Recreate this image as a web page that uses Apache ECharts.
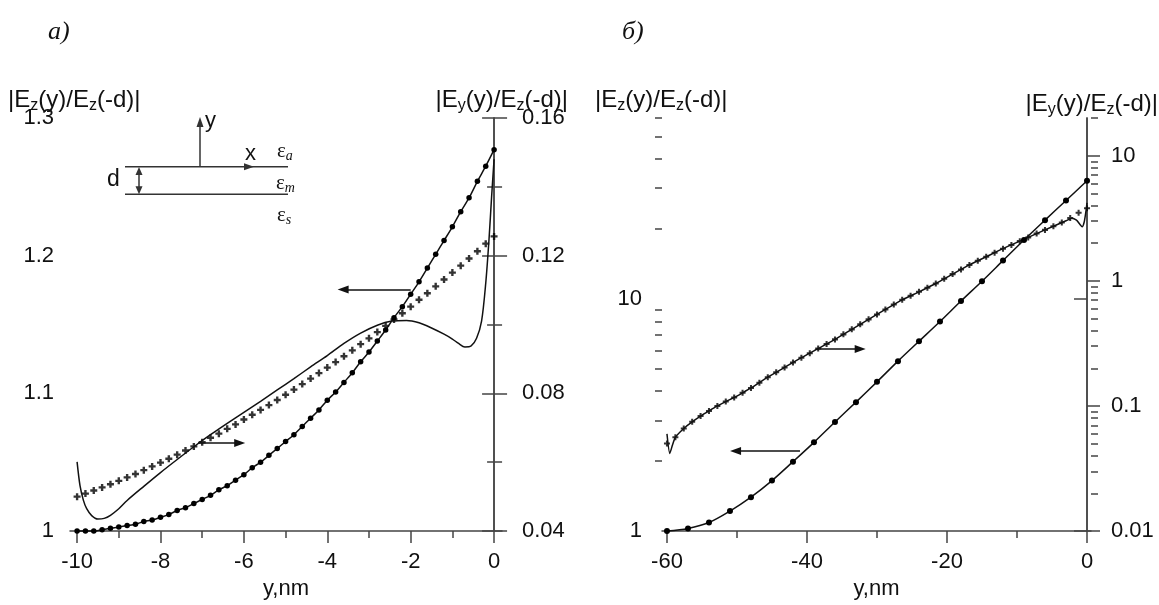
<!DOCTYPE html>
<html><head><meta charset="utf-8">
<script src="https://cdn.jsdelivr.net/npm/echarts@6/dist/echarts.min.js"></script>
<style>html,body{margin:0;padding:0;background:#fff}#c{width:1159px;height:605px}</style>
</head><body><div id="c"></div>
<script>
// ---------- panel a) ----------
const aX = [-10,-9.8,-9.6,-9.4,-9.2,-9,-8.8,-8.6,-8.4,-8.2,-8,-7.8,-7.6,-7.4,-7.2,-7,-6.8,-6.6,-6.4,-6.2,-6,-5.8,-5.6,-5.4,-5.2,-5,-4.8,-4.6,-4.4,-4.2,-4,-3.8,-3.6,-3.4,-3.2,-3,-2.8,-2.6,-2.4,-2.2,-2,-1.8,-1.6,-1.4,-1.2,-1,-0.8,-0.6,-0.4,-0.2,0];
const aEz = [1.000,1.000,1.000,1.001,1.002,1.003,1.004,1.005,1.007,1.008,1.010,1.012,1.015,1.017,1.020,1.023,1.026,1.030,1.033,1.037,1.041,1.046,1.050,1.055,1.060,1.065,1.070,1.076,1.082,1.088,1.095,1.101,1.108,1.115,1.123,1.130,1.138,1.146,1.155,1.163,1.172,1.181,1.191,1.201,1.211,1.221,1.232,1.242,1.254,1.265,1.277];
const aEyApprox = [0.0500,0.0509,0.0518,0.0527,0.0536,0.0546,0.0556,0.0566,0.0577,0.0588,0.0599,0.0610,0.0622,0.0634,0.0646,0.0658,0.0671,0.0683,0.0697,0.0710,0.0724,0.0738,0.0752,0.0766,0.0781,0.0796,0.0811,0.0827,0.0843,0.0859,0.0875,0.0891,0.0908,0.0925,0.0943,0.0960,0.0978,0.0996,0.1015,0.1033,0.1052,0.1072,0.1091,0.1111,0.1131,0.1151,0.1171,0.1192,0.1213,0.1235,0.1256];
const aEyX = [-10,-9.93,-9.85,-9.77,-9.65,-9.5,-9.35,-9.2,-9,-8.8,-8.4,-8,-7.6,-7.2,-6.8,-6.4,-6,-5.6,-5.2,-4.8,-4.4,-4,-3.6,-3.2,-2.8,-2.45,-2.1,-1.8,-1.5,-1.2,-1,-0.85,-0.7,-0.55,-0.42,-0.3,-0.2,-0.12,-0.06,0];
const aEy = [0.0601,0.0532,0.0490,0.0465,0.0445,0.0435,0.0437,0.0446,0.0465,0.0489,0.0530,0.0570,0.0608,0.0645,0.0680,0.0713,0.0745,0.0777,0.0810,0.0843,0.0877,0.0910,0.0945,0.0975,0.0998,0.1010,0.1012,0.1005,0.0990,0.0972,0.0958,0.0945,0.0935,0.0938,0.0960,0.1010,0.1120,0.1250,0.1370,0.1480];
const aXTicks = [-10,-8,-6,-4,-2,0];
const aXMinor = [-9,-7,-5,-3,-1];

// ---------- panel б) ----------
const bX = [-60,-57,-54,-51,-48,-45,-42,-39,-36,-33,-30,-27,-24,-21,-18,-15,-12,-9,-6,-3,0];
const bEz = [1.00,1.027,1.089,1.22,1.40,1.65,1.99,2.41,2.95,3.59,4.39,5.39,6.56,7.98,9.78,11.9,14.6,17.9,21.8,26.5,32.2];
const bCrossX = [-60,-58.8,-57.6,-56.4,-55.2,-54,-52.8,-51.6,-50.4,-49.2,-48,-46.8,-45.6,-44.4,-43.2,-42,-40.8,-39.6,-38.4,-37.2,-36,-34.8,-33.6,-32.4,-31.2,-30,-28.8,-27.6,-26.4,-25.2,-24,-22.8,-21.6,-20.4,-19.2,-18,-16.8,-15.6,-14.4,-13.2,-12,-10.8,-9.6,-8.4,-7.2,-6,-4.8,-3.6,-2.4,-1.2,0];
const bEyApprox = [0.0501,0.0562,0.0661,0.0747,0.0830,0.0913,0.1000,0.1084,0.1169,0.1274,0.1393,0.1535,0.1698,0.1858,0.2032,0.2223,0.2432,0.2642,0.2877,0.3126,0.3404,0.3733,0.4093,0.4487,0.4920,0.5383,0.5902,0.6457,0.7047,0.7586,0.8166,0.8810,0.9517,1.038,1.131,1.233,1.340,1.445,1.556,1.679,1.807,1.936,2.075,2.223,2.384,2.553,2.731,2.924,3.174,3.50,3.80];
const bEyX = [-60,-59.6,-59.2,-58.8,-57.6,-56.4,-55.2,-54,-52.8,-51.6,-50.4,-49.2,-48,-45.6,-43.2,-40.8,-38.4,-36,-33.6,-31.2,-28.8,-26.4,-24,-21.6,-19.2,-16.8,-14.4,-12,-9.6,-7.2,-4.8,-3,-2.2,-1.5,-1,-0.7,-0.4,-0.15,0];
const bEy = [0.0598,0.0417,0.0490,0.0562,0.0661,0.0747,0.0830,0.0913,0.1000,0.1084,0.1169,0.1274,0.1393,0.1698,0.2032,0.2432,0.2877,0.3404,0.4093,0.4920,0.5902,0.7047,0.8166,0.9517,1.131,1.340,1.556,1.807,2.075,2.384,2.731,3.02,3.16,3.05,2.82,2.70,2.95,3.60,4.20];
const bXTicks = [-60,-40,-20,0];
const bXMinor = [-50,-30,-10];
const bLeftMajor = [1,10];
const bLeftMinor = [2,3,4,5,6,7,8,9,20,30,40,50,60];
const bRightMajor = [0.01,0.1,1,10];
const bRightMinor = [0.02,0.03,0.04,0.05,0.06,0.07,0.08,0.09,0.2,0.3,0.4,0.5,0.6,0.7,0.8,0.9,2,3,4,5,6,7,8,9,20];

// ---------- styles ----------
const SANS = '"Liberation Sans", Arial, sans-serif';
const SERIF = '"Liberation Serif", "Times New Roman", serif';
const AX = '#444', INK = '#111';
const axLine = {show:true, lineStyle:{color:AX, width:1.5}};
const lbl = (extra) => Object.assign({color:INK, fontFamily:SANS, fontSize:22}, extra||{});
const tick = (len, extra) => Object.assign({show:true, length:len, lineStyle:{color:AX, width:1.5}}, extra||{});
const PLUS = 'path://M3.3,0H6.7V3.3H10V6.7H6.7V10H3.3V6.7H0V3.3H3.3Z';
const fmt = v => String(+Number(v).toPrecision(6));

function pairs(xs, ys){ return xs.map((x,i)=>[x, ys[i]]); }
function arrow(from, to){
  return {silent:true, symbol:['none','triangle'], label:{show:false},
    lineStyle:{color:INK, width:1.5, type:'solid'}, emphasis:{disabled:true},
    data:[[{coord:from, symbolSize:1},{coord:to, symbolSize:[8,11]}]]};
}

const chart = echarts.init(document.getElementById('c'), null, {renderer:'canvas'});

const xBase = (grid, min, max, ticks, name) => ({
  type:'value', gridIndex:grid, position:'bottom', min, max,
  axisLine:axLine, splitLine:{show:false},
  axisTick:tick(12,{customValues:ticks}),
  axisLabel:lbl({customValues:ticks, margin:20, formatter:fmt}),
  name, nameLocation:'middle', nameGap:44,
  nameTextStyle:{color:INK, fontFamily:SANS, fontSize:22}
});
const xMinor = (grid, min, max, ticks) => ({
  type:'value', gridIndex:grid, position:'bottom', min, max,
  axisLine:{show:false}, splitLine:{show:false}, axisLabel:{show:false},
  axisTick:tick(7,{customValues:ticks})
});
const yLog = (grid, pos, min, max, major, margin) => ({
  type:'log', logBase:10, gridIndex:grid, position:pos, min, max,
  axisLine:axLine, splitLine:{show:false},
  axisTick:tick(13,{customValues:major}),
  axisLabel:lbl({customValues:major, margin, formatter:fmt})
});
const yLogMinor = (grid, pos, min, max, minor) => ({
  type:'log', logBase:10, gridIndex:grid, position:pos, min, max,
  axisLine:{show:false}, splitLine:{show:false}, axisLabel:{show:false},
  axisTick:tick(7,{customValues:minor})
});

function subText(str, x, y, align){
  return {type:'text', x, y, silent:true, style:{
    text:str, fill:INK, font:'24px '+SANS, align:align||'left', verticalAlign:'middle',
    lineHeight:28,
    rich:{s:{fontSize:16, fontFamily:SANS, fill:INK, lineHeight:15, verticalAlign:'bottom'}}
  }};
}
function eps(sub, x, y){
  return {type:'text', x, y, silent:true, style:{
    text:'ε{s|'+sub+'}', fill:INK, font:'21px '+SERIF, align:'left', verticalAlign:'middle', lineHeight:24,
    rich:{s:{fontSize:14, fontFamily:SERIF, fontStyle:'italic', fill:INK, lineHeight:12, verticalAlign:'bottom'}}
  }};
}
const gl = (x1,y1,x2,y2) => ({type:'line', silent:true, shape:{x1,y1,x2,y2}, style:{stroke:'#333', lineWidth:1.5}});
const gp = (pts) => ({type:'polygon', silent:true, shape:{points:pts}, style:{fill:'#333'}});

const option = {
  animation:false,
  backgroundColor:'#fff',
  grid:[
    {left:70, top:118, width:432, height:418},
    {left:662, top:118, width:429, height:419}
  ],
  xAxis:[
    xBase(0, -10.17, 0.19, aXTicks, 'y,nm'),
    xMinor(0, -10.17, 0.19, aXMinor),
    xBase(1, -60.71, 0.57, bXTicks, 'y,nm'),
    xMinor(1, -60.71, 0.57, bXMinor)
  ],
  yAxis:[
    {type:'value', gridIndex:0, position:'left', min:1, max:1.3, interval:0.1,
     axisLine:axLine, splitLine:{show:false}, axisTick:tick(12),
     minorTick:{show:true, splitNumber:2, length:7, lineStyle:{color:AX, width:1.5}},
     axisLabel:lbl({margin:16, formatter:fmt})},
    {type:'value', gridIndex:0, position:'right', min:0.04, max:0.16, interval:0.04,
     axisLine:axLine, splitLine:{show:false}, axisTick:tick(13),
     minorTick:{show:true, splitNumber:2, length:8, lineStyle:{color:AX, width:1.5}},
     axisLabel:lbl({margin:20, formatter:fmt})},
    yLog(1, 'left', 1, 60, bLeftMajor, 20),
    yLog(1, 'right', 0.01, 20, bRightMajor, 20),
    yLogMinor(1, 'left', 1, 60, bLeftMinor),
    yLogMinor(1, 'right', 0.01, 20, bRightMinor)
  ],
  series:[
    {type:'line', xAxisIndex:0, yAxisIndex:0, data:pairs(aX, aEz), clip:false, silent:true,
     symbol:'circle', symbolSize:5.5, showAllSymbol:true, itemStyle:{color:'#000'},
     lineStyle:{color:INK, width:1.5}, smooth:0.3,
     markLine:arrow([-2.0, 1.1755], [-3.62, 1.1755])},
    {type:'scatter', xAxisIndex:0, yAxisIndex:1, data:pairs(aX, aEyApprox), clip:false, silent:true,
     symbol:PLUS, symbolSize:7, itemStyle:{color:'#000'}},
    {type:'line', xAxisIndex:0, yAxisIndex:1, data:pairs(aEyX, aEy), clip:false, silent:true,
     showSymbol:false, lineStyle:{color:INK, width:1.5}, smooth:0.3,
     markLine:arrow([-7.1, 0.0656], [-6.1, 0.0656])},
    {type:'line', xAxisIndex:2, yAxisIndex:2, data:pairs(bX, bEz), clip:false, silent:true,
     symbol:'circle', symbolSize:6, showAllSymbol:true, itemStyle:{color:'#000'},
     lineStyle:{color:INK, width:1.5}, smooth:0.3,
     markLine:arrow([-41.0, 2.21], [-50.2, 2.21])},
    {type:'scatter', xAxisIndex:2, yAxisIndex:3, data:pairs(bCrossX, bEyApprox), clip:false, silent:true,
     symbol:PLUS, symbolSize:6, itemStyle:{color:'#000'}},
    {type:'line', xAxisIndex:2, yAxisIndex:3, data:pairs(bEyX, bEy), clip:false, silent:true,
     showSymbol:false, lineStyle:{color:INK, width:1.5}, smooth:0.2,
     markLine:arrow([-38.6, 0.285], [-32.4, 0.285])}
  ],
  graphic:[
    {type:'text', x:48, y:32, silent:true, style:{text:'а)', fill:INK, font:'italic 26px '+SERIF, verticalAlign:'middle'}},
    {type:'text', x:622, y:32, silent:true, style:{text:'б)', fill:INK, font:'italic 26px '+SERIF, verticalAlign:'middle'}},
    subText('|E{s|z}(y)/E{s|z}(-d)|', 8, 100, 'left'),
    subText('|E{s|y}(y)/E{s|z}(-d)|', 568, 100, 'right'),
    subText('|E{s|z}(y)/E{s|z}(-d)|', 595, 100, 'left'),
    subText('|E{s|y}(y)/E{s|z}(-d)|', 1158, 104, 'right'),
    // inset sketch
    gl(200,167,200,124), gp([[200,117],[196.5,127],[203.5,127]]),
    gl(125,166.7,288,166.7), gp([[254,166.7],[244,163.2],[244,170.2]]),
    gl(125,194.3,288,194.3),
    gl(139,174,139,187), gp([[139,167],[135.5,175],[142.5,175]]), gp([[139,194.3],[135.5,186.3],[142.5,186.3]]),
    {type:'text', x:205, y:121, silent:true, style:{text:'y', fill:INK, font:'22px '+SANS, verticalAlign:'middle'}},
    {type:'text', x:245, y:154, silent:true, style:{text:'x', fill:INK, font:'22px '+SANS, verticalAlign:'middle'}},
    {type:'text', x:107, y:180, silent:true, style:{text:'d', fill:INK, font:'23px '+SANS, verticalAlign:'middle'}},
    eps('a', 277, 151), eps('m', 276, 183), eps('s', 277, 215)
  ]
};
chart.setOption(option);
</script>
</body></html>
